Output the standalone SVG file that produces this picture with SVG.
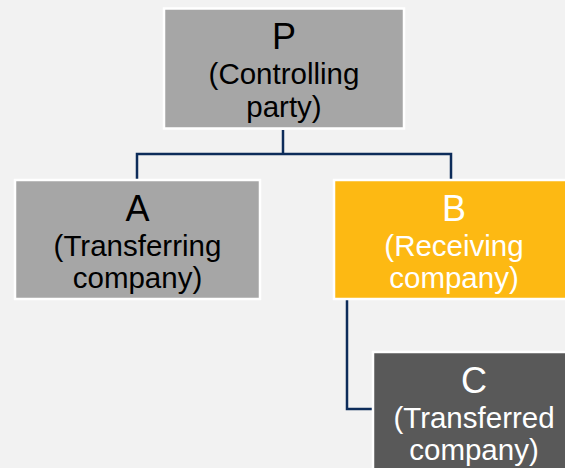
<svg xmlns="http://www.w3.org/2000/svg" width="565" height="468" viewBox="0 0 565 468">
<style>
.box{stroke:#ffffff;stroke-width:2.5}
.gray{fill:#a6a6a6}
.yellow{fill:#fdb913}
.dark{fill:#595959}
text{font-family:"Liberation Sans",Arial,sans-serif;text-anchor:middle}
.big{font-size:36px}
.sub{font-size:29.5px}
.blk{fill:#000000}
.wht{fill:#ffffff}
.conn{fill:none;stroke:#0d2c5a;stroke-width:2.5}
</style>
<rect width="565" height="468" fill="#f2f2f2"/>
<g id="connectors">
<polyline class="conn" points="283,130 283,154"/>
<polyline class="conn" points="137,179 137,154 451,154 451,179"/>
<polyline class="conn" points="347,300 347,409 372,409"/>
</g>
<g id="P">
<rect class="box gray" x="164" y="8.5" width="240" height="120"/>
<text class="big blk" x="284" y="49">P</text>
<text class="sub blk" x="284" y="84">(Controlling</text>
<text class="sub blk" x="284" y="117">party)</text>
</g>
<g id="A">
<rect class="box gray" x="15" y="180" width="245" height="119"/>
<text class="big blk" x="137.5" y="221">A</text>
<text class="sub blk" x="137.5" y="256">(Transferring</text>
<text class="sub blk" x="137.5" y="288">company)</text>
</g>
<g id="B">
<rect class="box yellow" x="334" y="180" width="240" height="119"/>
<text class="big wht" x="454" y="221">B</text>
<text class="sub wht" x="454" y="256">(Receiving</text>
<text class="sub wht" x="454" y="288">company)</text>
</g>
<g id="C">
<rect class="box dark" x="373" y="352" width="240" height="130"/>
<text class="big wht" x="474" y="393">C</text>
<text class="sub wht" x="474" y="428">(Transferred</text>
<text class="sub wht" x="474" y="460">company)</text>
</g>
</svg>
